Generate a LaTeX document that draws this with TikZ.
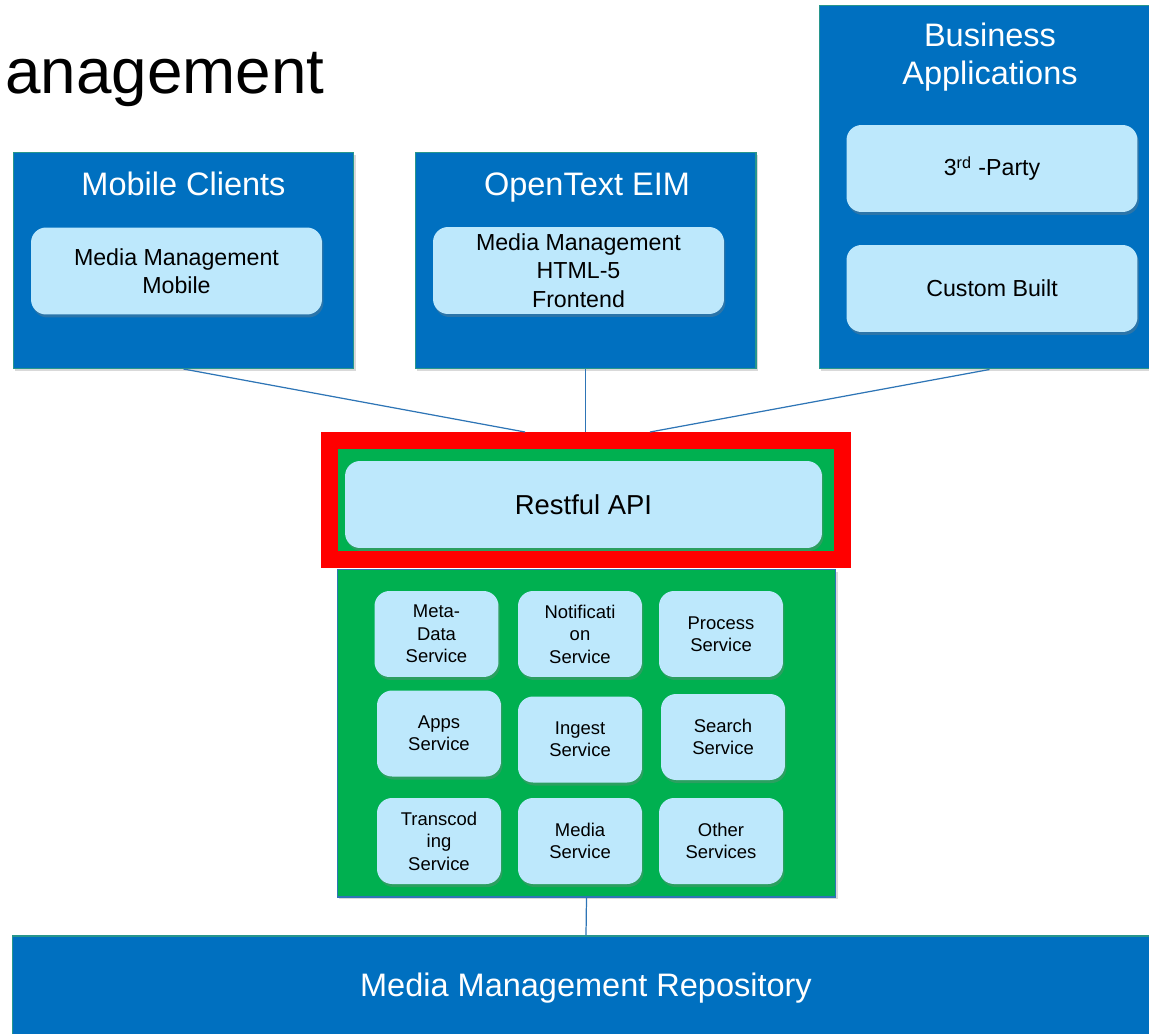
\documentclass[tikz,border=0pt]{standalone}
\usepackage{fontspec}
\setmainfont{Liberation Sans}
\usetikzlibrary{positioning, shadows}
\definecolor{boxblue}{RGB}{0,112,192}
\definecolor{paleblue}{RGB}{189,232,252}
\definecolor{svcgreen}{RGB}{0,176,80}
\definecolor{linkblue}{RGB}{46,117,182}
\definecolor{edgeteal}{RGB}{40,150,140}
\tikzset{
  outerbox/.style={
    draw=edgeteal,
    line width=0.6pt,
    rectangle,
    fill=boxblue,
    minimum width=6.82cm,
    minimum height=4.32cm,
    drop shadow={shadow xshift=0.04cm, shadow yshift=-0.05cm, opacity=0.3}
  },
  boxtitle/.style={
    text=white,
    align=center,
    font={\fontsize{18.5}{22}\selectfont}
  },
  innerbox/.style={
    rectangle,
    rounded corners=0.3cm,
    fill=paleblue,
    minimum width=5.82cm,
    minimum height=1.74cm,
    align=center,
    font={\fontsize{13.2}{16.2}\selectfont},
    drop shadow={shadow xshift=0.03cm, shadow yshift=-0.06cm, opacity=0.35}
  },
  servicebox/.style={
    rectangle,
    rounded corners=0.3cm,
    fill=paleblue,
    minimum width=2.48cm,
    minimum height=1.72cm,
    align=center,
    font={\fontsize{10.5}{12.75}\selectfont},
    drop shadow={shadow xshift=0.03cm, shadow yshift=-0.06cm, opacity=0.35}
  },
  link/.style={
    draw=linkblue,
    line width=0.7pt
  }
}
\begin{document}
\begin{tikzpicture}[x=0.02cm, y=-0.02cm]
        \useasboundingbox (0,0) rectangle (1149,1034);
        \clip (0,0) rectangle (1149,1034);
        \node[anchor=base west, inner sep=0pt, font={\fontsize{36.3}{44}\selectfont}] (heading) at (5,93) {anagement};

        % top row of clients
        \node[outerbox] (mobile) at (183.5,260.5) {};
        \node[boxtitle, anchor=base] (mobiletitle) at (183.5,195) {Mobile Clients};
        \node[innerbox] (mobileapp) at (176.5,271) {Media Management\\Mobile};

        \node[outerbox] (eim) at (585.5,260.5) {};
        \node[boxtitle, anchor=base] (eimtitle) at (587,195) {OpenText EIM};
        \node[innerbox] (eimapp) at (578.5,270.5) {Media Management\\HTML-5\\Frontend};

        \node[outerbox, minimum height=7.28cm] (business) at (989.5,187) {};
        \node[boxtitle] (businesstitle) at (990,57) {Business\\Applications};
        \node[innerbox] (thirdparty) at (992,168.5) {3\textsuperscript{rd} -Party};
        \node[innerbox] (custom) at (992,288.5) {Custom Built};

        % api layer
        \node[draw=red, line width=0.34cm, fill=svcgreen, minimum width=10.26cm, minimum height=2.38cm] (apiframe) at (586,500) {};
        \node[innerbox, minimum width=9.54cm, font={\fontsize{15.6}{19}\selectfont}] (api) at (583.5,504.5) {Restful API};

        \coordinate (apileft) at (525,432);
        \coordinate (apiright) at (650,432);
        \draw[link] (mobile.south) -- (apileft);
        \draw[link] (eim.south) -- (eim.south |- apiframe.north);
        \draw[link] (business.south) -- (apiright);

        % services
        \node[draw=linkblue, line width=0.6pt, fill=svcgreen, minimum width=9.98cm, minimum height=6.56cm,
              drop shadow={shadow xshift=0.04cm, shadow yshift=-0.05cm, opacity=0.3}] (services) at (586.5,733) {};
        \node[servicebox] (metadata) at (436.5,634) {Meta-\\Data\\Service};
        \node[servicebox] (notification) at (580,634) {Notificati\\on\\Service};
        \node[servicebox] (process) at (721,634) {Process\\Service};
        \node[servicebox] (apps) at (439,733.5) {Apps\\Service};
        \node[servicebox] (ingest) at (580,739.5) {Ingest\\Service};
        \node[servicebox] (search) at (723,737) {Search\\Service};
        \node[servicebox] (transcoding) at (439,841) {Transcod\\ing\\Service};
        \node[servicebox] (media) at (580,841) {Media\\Service};
        \node[servicebox] (other) at (721,841) {Other\\Services};

        % repository
        \node[draw=edgeteal, line width=0.6pt, fill=boxblue, minimum width=22.96cm, minimum height=2.08cm,
              text=white, font={\fontsize{18.5}{22}\selectfont}] (repo) at (586,988) {Media Management Repository};
        \draw[link] (services.south) -- (repo.north);
      \end{tikzpicture}
\end{document}
